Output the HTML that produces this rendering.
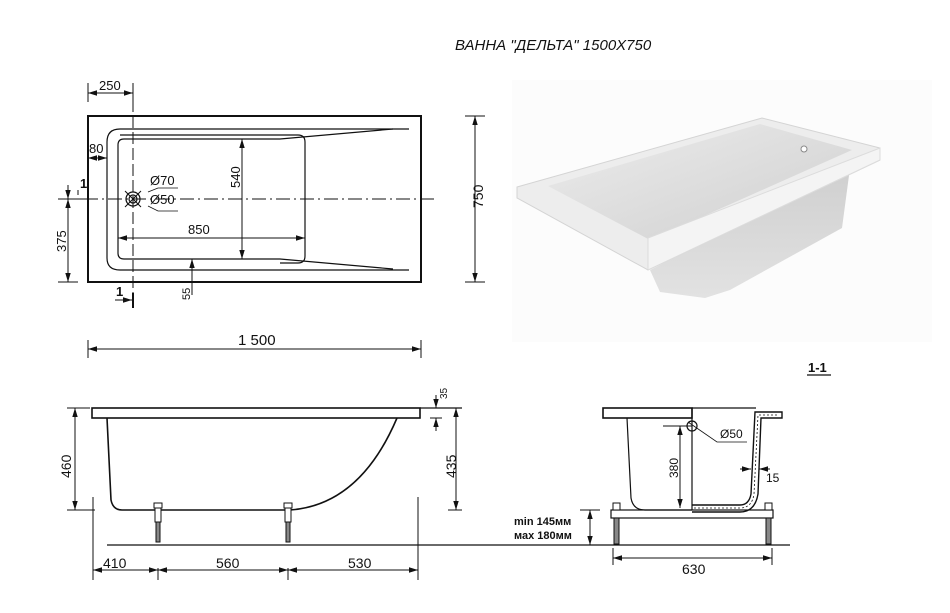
<!DOCTYPE html>
<html><head><meta charset="utf-8"><style>
html,body{margin:0;padding:0;background:#fff;}
svg{display:block;}
text{font-family:"Liberation Sans",sans-serif;font-size:13px;fill:#111;}
</style></head><body>
<svg width="950" height="613" viewBox="0 0 950 613" xmlns="http://www.w3.org/2000/svg">
<defs>
<marker id="a" viewBox="0 0 10 6" refX="10" refY="3" markerWidth="9" markerHeight="6" orient="auto-start-reverse"><path d="M0,0L10,3L0,6z" fill="#111"/></marker>
<linearGradient id="g1" x1="0" y1="0" x2="1" y2="1"><stop offset="0" stop-color="#ececec"/><stop offset="1" stop-color="#cfcfcf"/></linearGradient>
<linearGradient id="g2" x1="0" y1="0" x2="0" y2="1"><stop offset="0" stop-color="#cfcfcf"/><stop offset="1" stop-color="#e2e2e2"/></linearGradient>
</defs>

<text x="455" y="50" style="font-style:italic;font-size:15px">ВАННА "ДЕЛЬТА" 1500Х750</text>

<!-- photo -->
<rect x="512" y="80" width="420" height="262" fill="#fcfcfc"/>
<polygon points="650,270 850,168 842,228 730,290 705,298 660,292" fill="url(#g2)"/>
<polygon points="517,187 762,118 880,148 880,160 648,270 517,198" fill="#ededed" stroke="#d4d4d4"/>
<polygon points="548,186 760,124 852,150 650,240" fill="url(#g1)"/>
<polygon points="648,238 880,148 880,160 648,270" fill="#f4f4f4" stroke="#dcdcdc"/>
<circle cx="804" cy="149" r="3" fill="#fff" stroke="#888"/>

<!-- plan view -->
<g stroke="#111" fill="none" stroke-width="1.2">
<rect x="88" y="116" width="333" height="166" stroke-width="2"/>
<path d="M409,129 H120 Q107,129 107,142 V258 Q107,270 120,270 H409"/>
<path d="M393,129 L280,139 H124 Q118,139 118,145 V253 Q118,259 124,259 H280 L393,269"/>
<path d="M120,135 H298 Q305,135 305,142 V256 Q305,263 298,263 H280"/>
<path d="M60,199 H437" stroke-dasharray="14,4,2,4" stroke-width="1"/>
<path d="M133,84 V305" stroke-dasharray="12,4" stroke-width="1"/>
<circle cx="133" cy="199" r="7"/><circle cx="133" cy="199" r="4"/>
<path d="M125,191 L141,207 M125,207 L141,191" stroke-width="1"/>
<path d="M148,192 L158,188 H178 M148,206 L158,211 H178" stroke-width="0.8"/>
<g stroke-width="1">
<path d="M88,83 V102 M133,83 V102"/>
<path d="M88,93 H133" marker-start="url(#a)" marker-end="url(#a)"/>
<path d="M88,158 H107" marker-start="url(#a)" marker-end="url(#a)"/>
<path d="M242,139 V259" marker-start="url(#a)" marker-end="url(#a)"/>
<path d="M118,238 H305" marker-start="url(#a)" marker-end="url(#a)"/>
<path d="M465,116 H485 M465,282 H485"/>
<path d="M475,116 V282" marker-start="url(#a)" marker-end="url(#a)"/>
<path d="M58,199 H78 M58,282 H78"/>
<path d="M68,199 V282" marker-start="url(#a)" marker-end="url(#a)"/>
<path d="M68,185 V199" marker-end="url(#a)"/>
<path d="M80,199 H88 M78,190 V195" />
<path d="M192,259 V295" marker-start="url(#a)"/>
<path d="M88,340 V358 M421,340 V358"/>
<path d="M88,349 H421" marker-start="url(#a)" marker-end="url(#a)"/>
<path d="M115,300 H132" marker-end="url(#a)"/>
<path d="M133,293 V308" stroke-width="2"/>
</g>
</g>
<text x="99" y="90">250</text>
<text x="89" y="153">80</text>
<text x="150" y="185">Ø70</text>
<text x="150" y="204">Ø50</text>
<text x="188" y="234">850</text>
<text transform="translate(240,188) rotate(-90)">540</text>
<text transform="translate(483,208) rotate(-90)" style="font-size:14px">750</text>
<text transform="translate(66,252) rotate(-90)">375</text>
<text transform="translate(190,300) rotate(-90)" style="font-size:11px">55</text>
<text x="80" y="188" style="font-weight:bold">1</text>
<text x="116" y="296" style="font-weight:bold">1</text>
<text x="238" y="345" style="font-size:15px">1 500</text>

<!-- side view -->
<g stroke="#111" fill="none" stroke-width="1.2">
<rect x="92" y="408" width="328" height="10" stroke-width="1.6"/>
<path d="M420,408 H462"/>
<path d="M107,418 L111,500 Q113,510 122,510 H290 Q360,505 397,418" stroke-width="1.6"/>
<path d="M107,545 H790"/>
<g stroke-width="1">
<path d="M93,497 V580 M418,497 V580 M158,568 V580 M288,568 V580"/>
<path d="M93,570 H158" marker-start="url(#a)" marker-end="url(#a)"/>
<path d="M158,570 H288" marker-start="url(#a)" marker-end="url(#a)"/>
<path d="M288,570 H418" marker-start="url(#a)" marker-end="url(#a)"/>
<path d="M67,408 H90 M67,510 H95"/>
<path d="M75,408 V510" marker-start="url(#a)" marker-end="url(#a)"/>
<path d="M440,408 H462 M448,510 H462"/>
<path d="M456,408 V510" marker-start="url(#a)" marker-end="url(#a)"/>
<path d="M430,418 H442"/>
<path d="M436,395 V408" marker-end="url(#a)"/>
<path d="M436,431 V418" marker-end="url(#a)"/>
<path d="M580,510 H600"/>
<path d="M590,510 V545" marker-start="url(#a)" marker-end="url(#a)"/>
</g>
</g>
<g fill="#fff" stroke="#111" stroke-width="1">
<rect x="154" y="503" width="8" height="5"/><rect x="155" y="508" width="6" height="14"/><rect x="156" y="522" width="4" height="20" fill="#888"/>
<rect x="284" y="503" width="8" height="5"/><rect x="285" y="508" width="6" height="14"/><rect x="286" y="522" width="4" height="20" fill="#888"/>
</g>
<text x="103" y="568" style="font-size:14px">410</text>
<text x="216" y="568" style="font-size:14px">560</text>
<text x="348" y="568" style="font-size:14px">530</text>
<text transform="translate(71,478) rotate(-90)" style="font-size:14px">460</text>
<text transform="translate(456,478) rotate(-90)" style="font-size:14px">435</text>
<text transform="translate(447,399) rotate(-90)" style="font-size:10px">35</text>
<text x="514" y="525" style="font-size:11px;font-weight:bold">min 145мм</text>
<text x="514" y="539" style="font-size:11px;font-weight:bold">мах 180мм</text>

<!-- section 1-1 -->
<text x="808" y="372" style="font-weight:bold">1-1</text>
<path d="M807,375 H831" stroke="#111" stroke-width="1.2"/>
<g stroke="#111" fill="none" stroke-width="1.2">
<rect x="603" y="408" width="89" height="10" stroke-width="1.6"/>
<path d="M692,408 H756"/>
<path d="M627,418 L631,498 Q633,510 645,510 H692"/>
<path d="M692,408 V510"/>
<path d="M692,505 H740 Q749,505 751,494 L755,412 H782 V418 H761 L758,494 Q755,512 740,512 H692" stroke-width="1.4"/>
<path d="M694,508 H740 Q752,508 754,494 L758,415 H779" stroke-dasharray="2,2" stroke-width="0.8"/>
<rect x="611" y="510" width="162" height="8"/>
<circle cx="692" cy="426" r="5"/>
<path d="M688,422 L717,442 H747" stroke-width="0.8"/>
<g stroke-width="1">
<path d="M663,426 H692"/>
<path d="M680,426 V508" marker-start="url(#a)" marker-end="url(#a)"/>
<path d="M740,469 H751" marker-end="url(#a)"/>
<path d="M770,469 H759" marker-end="url(#a)"/>
<path d="M613,548 V565 M772,548 V565"/>
<path d="M613,558 H772" marker-start="url(#a)" marker-end="url(#a)"/>
</g>
</g>
<g fill="#fff" stroke="#111" stroke-width="1">
<rect x="613" y="503" width="7" height="7"/><rect x="614" y="518" width="5" height="26" fill="#888"/>
<rect x="765" y="503" width="7" height="7"/><rect x="766" y="518" width="5" height="26" fill="#888"/>
</g>
<text x="720" y="438" style="font-size:12px">Ø50</text>
<text transform="translate(678,478) rotate(-90)" style="font-size:12px">380</text>
<text x="766" y="482" style="font-size:12px">15</text>
<text x="682" y="574" style="font-size:14px">630</text>
</svg>
</body></html>
